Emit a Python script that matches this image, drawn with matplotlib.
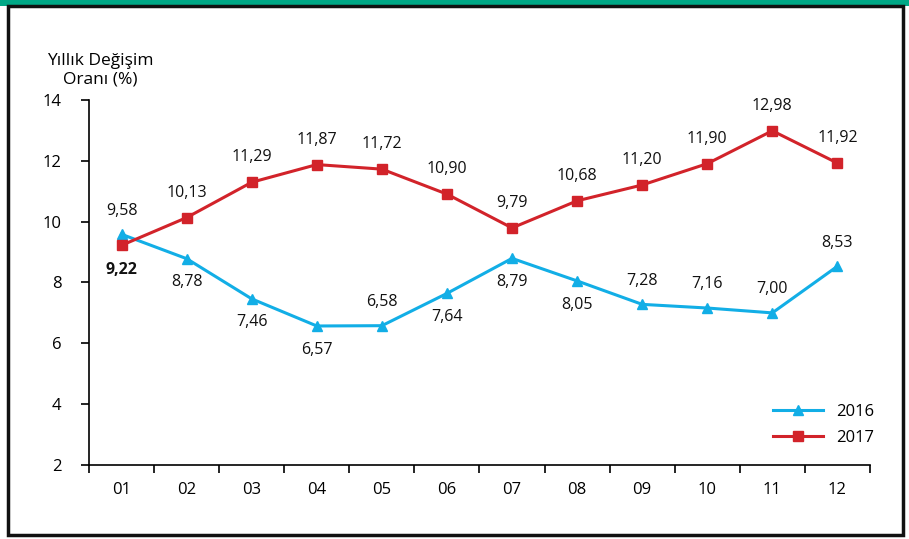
import matplotlib
matplotlib.use("Agg")
import matplotlib.pyplot as plt
from matplotlib.patches import Rectangle

# Aylık yıllık değişim oranları (%)
months = ["01", "02", "03", "04", "05", "06", "07", "08", "09", "10", "11", "12"]
rate_2016 = [9.58, 8.78, 7.46, 6.57, 6.58, 7.64, 8.79, 8.05, 7.28, 7.16, 7.00, 8.53]
rate_2017 = [9.22, 10.13, 11.29, 11.87, 11.72, 10.90, 9.79, 10.68, 11.20, 11.90, 12.98, 11.92]

# etiket yönü: +1 üstte, -1 altta
pos_2016 = [1, -1, -1, -1, 1, -1, -1, -1, 1, 1, 1, 1]
pos_2017 = [-1, 1, 1, 1, 1, 1, 1, 1, 1, 1, 1, 1]

C_2016 = "#12AEE6"
C_2017 = "#D2232A"
C_GREEN = "#00A886"

plt.rcParams["font.family"] = ["Open Sans", "DejaVu Sans"]

fig = plt.figure(figsize=(9.09, 5.39), dpi=100)
ax = fig.add_axes([0.098, 0.137, 0.859, 0.678])

x = list(range(len(months)))
ax.plot(x, rate_2016, color=C_2016, lw=2.2, marker="^", ms=7, label="2016", zorder=3)
ax.plot(x, rate_2017, color=C_2017, lw=2.2, marker="s", ms=7, label="2017", zorder=3)

for i, (v, p) in enumerate(zip(rate_2016, pos_2016)):
    ax.annotate(f"{v:.2f}".replace(".", ","), (i, v), xytext=(0, 17 * p),
                textcoords="offset points", ha="center", va="center",
                fontsize=11.5, color="#111111")
for i, (v, p) in enumerate(zip(rate_2017, pos_2017)):
    ax.annotate(f"{v:.2f}".replace(".", ","), (i, v), xytext=(0, 18 * p),
                textcoords="offset points", ha="center", va="center",
                fontsize=11.5, color="#111111",
                fontweight="bold" if i == 0 else "normal")

ax.set_xlim(-0.5, 11.5)
ax.set_ylim(2, 14)
ax.set_yticks(range(2, 15, 2))
ax.set_xticks([k - 0.5 for k in range(13)])
ax.set_xticklabels([])
ax.set_xticks(x, minor=True)
ax.set_xticklabels(months, minor=True, fontsize=12)
ax.tick_params(axis="x", which="major", length=6, width=1.2, direction="out")
ax.tick_params(axis="x", which="minor", length=0, pad=12)
ax.tick_params(axis="y", length=6, width=1.2, direction="out", labelsize=12, pad=14)

for s in ["top", "right"]:
    ax.spines[s].set_visible(False)
for s in ["left", "bottom"]:
    ax.spines[s].set_linewidth(1.2)

ax.text(-0.33, 14.4, "Yıllık Değişim\nOranı (%)", ha="center", va="bottom",
        fontsize=12.5, linespacing=1.25)

ax.legend(loc="lower right", bbox_to_anchor=(1.025, 0.012), frameon=False,
          fontsize=12, handlelength=3, labelspacing=0.6)

# çerçeve ve üst yeşil şerit
fig.patches.append(Rectangle((0, 0.988), 1, 0.012, transform=fig.transFigure,
                             facecolor=C_GREEN, edgecolor="none"))
fig.patches.append(Rectangle((0.009, 0.008), 0.984, 0.980, transform=fig.transFigure,
                             facecolor="none", edgecolor="#111111", lw=2.5))

fig.savefig("out.png", dpi=100, facecolor="white")
